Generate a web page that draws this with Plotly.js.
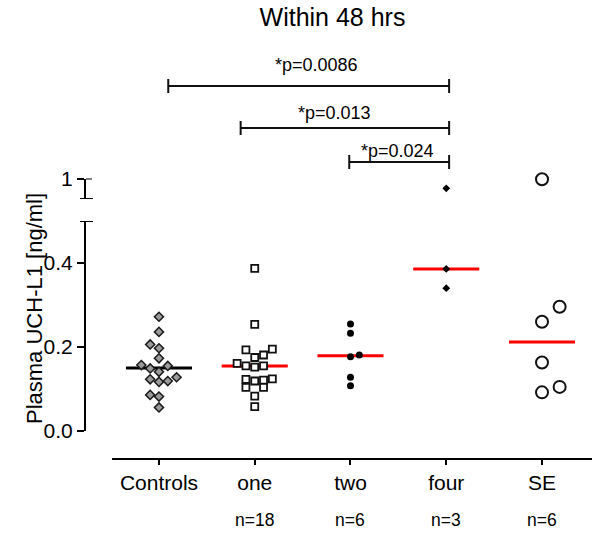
<!DOCTYPE html>
<html>
<head>
<meta charset="utf-8">
<script src="https://cdn.plot.ly/plotly-3.0.1.min.js"></script>
<style>html,body{margin:0;padding:0;background:#fff;}#chart{width:600px;height:534px;}</style>
</head>
<body>
<div id="chart"></div>
<script>
// ---- data ----
const categories = ['Controls', 'one', 'two', 'four', 'SE'];
const nLabels = ['', 'n=18', 'n=6', 'n=3', 'n=6'];

const controls = [0.272, 0.236, 0.206, 0.197, 0.173, 0.157, 0.149, 0.155, 0.141, 0.123, 0.117, 0.119, 0.128, 0.086, 0.082, 0.056];
const controlsCol = [0, 0, -1, 0, 0, -2, -1, 1, 0, -1, 0, 1, 2, -1, 0, 0];

const one = [0.387, 0.254, 0.193, 0.195, 0.181, 0.175, 0.161, 0.155, 0.152, 0.155, 0.123, 0.119, 0.121, 0.124, 0.104, 0.104, 0.083, 0.058];
const oneCol = [0, 0, -1, 2, 1, 0, -2, -1, 0, 1, -1, 0, 1, 2, -1, 1, 0, 0];

const two = [0.255, 0.233, 0.177, 0.181, 0.128, 0.108];
const twoCol = [0, 0, 0, 1, 0, 0];

const four = [0.976, 0.386, 0.340];
const fourCol = [0, 0, 0];

const se = [0.998, 0.296, 0.260, 0.163, 0.105, 0.092];
const seCol = [0, 2, 0, 0, 2, 0];

const medians = [0.150, 0.155, 0.179, 0.386, 0.212];

const bracketFrom = [0.097, 0.853, 1.987];
const bracketTo = [3.03, 3.03, 3.03];
const bracketLabels = ['*p=0.0086', '*p=0.013', '*p=0.024'];
const bracketLabelX = [1.647, 1.828, 2.496];

// ---- layout geometry ----
const W = 600, H = 534;
const M = {l: 86, r: 8, t: 50, b: 75};
const plotH = H - M.t - M.b;   // 409
const plotW = W - M.l - M.r;   // 506
const bottomPx = H - M.b;      // 459
const py = p => (bottomPx - p) / plotH;   // pixel row -> paper y
const pxW = p => p / plotW;               // pixel width -> paper x
const COL = 0.092;      // spacing of scatter columns (category units)
const HALF = 0.345;     // half width of median lines
const FONT = 'Liberation Sans, Arial, sans-serif';

const groups = [
  {v: controls, c: controlsCol, marker: {symbol: 'diamond', size: 7, color: '#9a9a9a', line: {color: '#1a1a1a', width: 1.5}}},
  {v: one, c: oneCol, marker: {symbol: 'square', size: 7, color: '#ffffff', line: {color: '#111111', width: 1.8}}},
  {v: two, c: twoCol, marker: {symbol: 'circle', size: 7, color: '#000000', line: {width: 0}}},
  {v: four, c: fourCol, marker: {symbol: 'diamond', size: 6, color: '#000000', line: {width: 0}}},
  {v: se, c: seCol, marker: {symbol: 'circle', size: 12, color: '#ffffff', line: {color: '#111111', width: 2}}}
];

const traces = [];
// medians
medians.forEach((m, i) => {
  traces.push({
    type: 'scatter', mode: 'lines', x: [i - HALF, i + HALF], y: [m, m],
    xaxis: 'x', yaxis: 'y', hoverinfo: 'skip', showlegend: false,
    line: {color: i === 0 ? '#000000' : '#ff0000', width: 3}
  });
});
groups.forEach((g, i) => {
  const lowX = [], lowY = [], upX = [], upY = [];
  g.v.forEach((val, k) => {
    const x = i + g.c[k] * COL;
    if (val > 0.5) { upX.push(x); upY.push(val); } else { lowX.push(x); lowY.push(val); }
  });
  traces.push({type: 'scatter', mode: 'markers', x: lowX, y: lowY, xaxis: 'x', yaxis: 'y',
    marker: g.marker, showlegend: false, cliponaxis: false, name: categories[i]});
  if (upX.length) traces.push({type: 'scatter', mode: 'markers', x: upX, y: upY, xaxis: 'x', yaxis: 'y2',
    marker: g.marker, showlegend: false, cliponaxis: false, name: categories[i]});
});

const shapes = [];
const lineStyle = {color: '#111111', width: 2};
// x axis line (offset from the y axis)
shapes.push({type: 'line', xref: 'x', yref: 'paper', x0: -0.49, x1: 4.522, y0: 0, y1: 0, line: {color: '#000', width: 2}});
// axis-break caps
shapes.push({type: 'line', xref: 'paper', yref: 'y', x0: pxW(-6), x1: pxW(7), y0: 0.5, y1: 0.5, line: {color: '#000', width: 2}});
shapes.push({type: 'line', xref: 'paper', yref: 'y2', x0: pxW(-6), x1: pxW(7), y0: 0.95, y1: 0.95, line: {color: '#000', width: 2}});
shapes.push({type: 'line', xref: 'paper', yref: 'y2', x0: 0, x1: pxW(6), y0: 1.0, y1: 1.0, line: {color: '#000', width: 2}});
// significance brackets
const bracketRow = [86, 128, 162];
const bracketTextRow = [65, 113, 151];
bracketFrom.forEach((a, k) => {
  const b = bracketTo[k];
  const y = py(bracketRow[k]);
  const yt = py(bracketRow[k] - 7), yb = py(bracketRow[k] + 7);
  shapes.push({type: 'line', xref: 'x', yref: 'paper', x0: a, x1: b, y0: y, y1: y, line: lineStyle});
  shapes.push({type: 'line', xref: 'x', yref: 'paper', x0: a, x1: a, y0: yb, y1: yt, line: lineStyle});
  shapes.push({type: 'line', xref: 'x', yref: 'paper', x0: b, x1: b, y0: yb, y1: yt, line: lineStyle});
});

const annotations = [];
bracketLabels.forEach((t, k) => {
  annotations.push({text: t, xref: 'x', yref: 'paper', x: bracketLabelX[k], y: py(bracketTextRow[k]),
    showarrow: false, xanchor: 'center', yanchor: 'middle', font: {family: FONT, size: 18, color: '#000'}});
});
nLabels.forEach((t, i) => {
  if (!t) return;
  annotations.push({text: t, xref: 'x', yref: 'paper', x: i, y: py(519.5),
    showarrow: false, xanchor: 'center', yanchor: 'middle', font: {family: FONT, size: 17.5, color: '#000'}});
});
annotations.push({text: 'Plasma UCH-L1 [ng/ml]', xref: 'paper', yref: 'paper', x: pxW(34 - M.l), y: py(309),
  textangle: -90, showarrow: false, xanchor: 'center', yanchor: 'middle', font: {family: FONT, size: 22, color: '#000'}});

const axisCommon = {
  showgrid: false, zeroline: false, showline: true, linecolor: '#000', linewidth: 2,
  ticks: 'outside', ticklen: 7, tickwidth: 2, tickcolor: '#000',
  tickfont: {family: FONT, size: 21, color: '#000'}, fixedrange: true
};

const layout = {
  width: W, height: H,
  margin: M,
  paper_bgcolor: '#fff', plot_bgcolor: '#fff',
  font: {family: FONT, color: '#000'},
  title: {text: 'Within 48 hrs', x: 332.5 / W, xref: 'container', xanchor: 'center',
    y: 1 - 17 / H, yref: 'container', yanchor: 'middle', font: {family: FONT, size: 25, color: '#000'}},
  xaxis: {
    range: [-0.762, 4.522], showgrid: false, zeroline: false, showline: false,
    tickmode: 'array', tickvals: categories.map((_, i) => i), ticktext: categories,
    ticks: 'outside', ticklen: 5, tickwidth: 2, tickcolor: '#000',
    tickfont: {family: FONT, size: 21, color: '#000'},
    anchor: 'free', position: 0, fixedrange: true
  },
  yaxis: Object.assign({}, axisCommon, {
    domain: [py(431), py(221)], range: [0, 0.5], anchor: 'x',
    tickmode: 'array', tickvals: [0, 0.2, 0.4], ticktext: ['0.0', '0.2', '0.4']
  }),
  yaxis2: Object.assign({}, axisCommon, {
    domain: [py(199), py(178.5)], range: [0.95, 1.0], anchor: 'x',
    tickmode: 'array', tickvals: [1], ticktext: ['1']
  }),
  shapes: shapes,
  annotations: annotations,
  showlegend: false,
  hovermode: false
};

Plotly.newPlot('chart', traces, layout, {staticPlot: true, displayModeBar: false});
</script>
</body>
</html>
